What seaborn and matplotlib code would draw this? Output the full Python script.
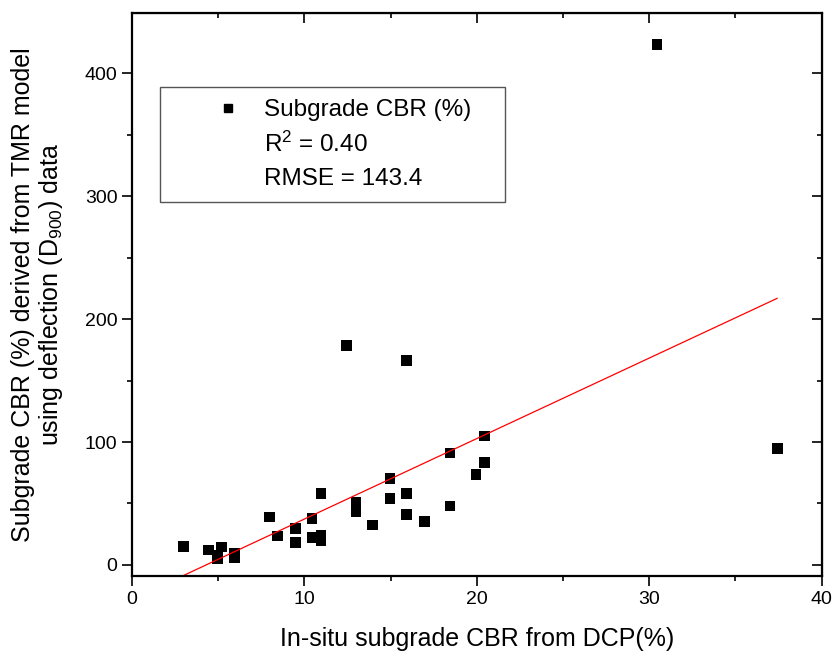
import matplotlib
matplotlib.use("Agg")
import matplotlib.pyplot as plt
from matplotlib.lines import Line2D
from matplotlib.legend_handler import HandlerLine2D
from matplotlib.ticker import MultipleLocator
import numpy as np
import pandas as pd
import seaborn as sns

sns.set_style("ticks")
plt.rcParams['font.family'] = ['Liberation Sans', 'DejaVu Sans']
plt.rcParams['mathtext.fontset'] = 'custom'
plt.rcParams['mathtext.rm'] = 'Liberation Sans'
plt.rcParams['mathtext.it'] = 'Liberation Sans'
for key in ['text.color', 'axes.labelcolor', 'xtick.color', 'ytick.color', 'axes.edgecolor']:
    plt.rcParams[key] = 'black'

# in-situ CBR from DCP (%) vs CBR derived from TMR model (%)
dcp_cbr = [2.97, 4.46, 4.95, 4.95, 5.2, 5.97, 5.97, 7.96, 8.46, 9.47, 9.47,
           10.45, 10.45, 10.96, 10.96, 10.96, 12.45, 12.99, 12.99, 13.95,
           14.96, 14.96, 15.92, 15.92, 15.92, 16.95, 18.45, 18.45, 19.96,
           20.46, 20.46, 30.45, 37.43]
tmr_cbr = [14.9, 12.2, 8.1, 5.5, 14.5, 9.5, 5.8, 39.0, 23.5, 29.5, 18.5,
           38.0, 22.5, 57.8, 23.8, 19.5, 178.3, 51.2, 43.0, 32.5,
           70.5, 54.0, 166.4, 58.0, 41.0, 35.5, 91.0, 48.0, 73.7,
           104.8, 83.5, 423.6, 94.8]

# fitted line
fit_slope = 6.55
fit_intercept = -28.2

df = pd.DataFrame({"dcp": dcp_cbr, "tmr": tmr_cbr})


class OffsetMarkerHandler(HandlerLine2D):
    # single marker sits at the middle of xdata, so shift it to the right
    def get_xdata(self, legend, xdescent, ydescent, width, height, fontsize):
        xdata = np.array([-xdescent + 0.4 * width, -xdescent + width])
        return xdata, np.array([-xdescent + 0.7 * width])


fig = plt.figure(figsize=(8.35, 6.56), dpi=100)
ax = fig.add_axes([0.158, 0.122, 0.826, 0.858])

sns.scatterplot(data=df, x="dcp", y="tmr", marker="s", color="black",
                s=60, edgecolor="none", ax=ax, legend=False)

xfit = np.array([min(dcp_cbr), max(dcp_cbr)])
ax.plot(xfit, fit_slope * xfit + fit_intercept, color="red", lw=0.9)

ax.set_xlim(0, 40)
ax.set_ylim(-9, 449)
ax.xaxis.set_major_locator(MultipleLocator(10))
ax.xaxis.set_minor_locator(MultipleLocator(5))
ax.yaxis.set_major_locator(MultipleLocator(100))
ax.yaxis.set_minor_locator(MultipleLocator(50))
ax.tick_params(which='major', direction='out', length=7, width=1.2, labelsize=14)
ax.tick_params(which='minor', direction='out', length=3.5, width=1.2)
for sp in ax.spines.values():
    sp.set_linewidth(1.6)

# mirrored inward ticks on top and right
top = ax.secondary_xaxis('top')
top.xaxis.set_major_locator(MultipleLocator(10))
top.xaxis.set_minor_locator(MultipleLocator(5))
top.tick_params(which='major', direction='in', length=7, width=1.2, labeltop=False)
top.tick_params(which='minor', direction='in', length=3.5, width=1.2)
right = ax.secondary_yaxis('right')
right.yaxis.set_major_locator(MultipleLocator(100))
right.yaxis.set_minor_locator(MultipleLocator(50))
right.tick_params(which='major', direction='in', length=7, width=1.2, labelright=False)
right.tick_params(which='minor', direction='in', length=3.5, width=1.2)

ax.set_xlabel("In-situ subgrade CBR from DCP(%)", fontsize=18, labelpad=14)
ax.set_ylabel("Subgrade CBR (%) derived from TMR model\nusing deflection (D$_{900}$) data",
              fontsize=18, labelpad=14, linespacing=1.1)

handles = [Line2D([], [], marker="s", color="black", linestyle="none", markersize=6),
           Line2D([], [], linestyle="none"),
           Line2D([], [], linestyle="none")]
labels = ["Subgrade CBR (%)", "R$^2$ = 0.40", "RMSE = 143.4"]
leg = ax.legend(handles, labels, loc="upper left",
                bbox_to_anchor=(0.041, 0.869, 0.5, 0.0), mode="expand",
                fontsize=17.5, frameon=True, fancybox=False, framealpha=1,
                edgecolor="#555555", handlelength=3.25, handletextpad=0.5,
                labelspacing=0.45, borderpad=0.5, borderaxespad=0,
                handler_map={Line2D: OffsetMarkerHandler(numpoints=1)})
leg.get_frame().set_linewidth(1.0)

fig.savefig("out.png", dpi=100)
